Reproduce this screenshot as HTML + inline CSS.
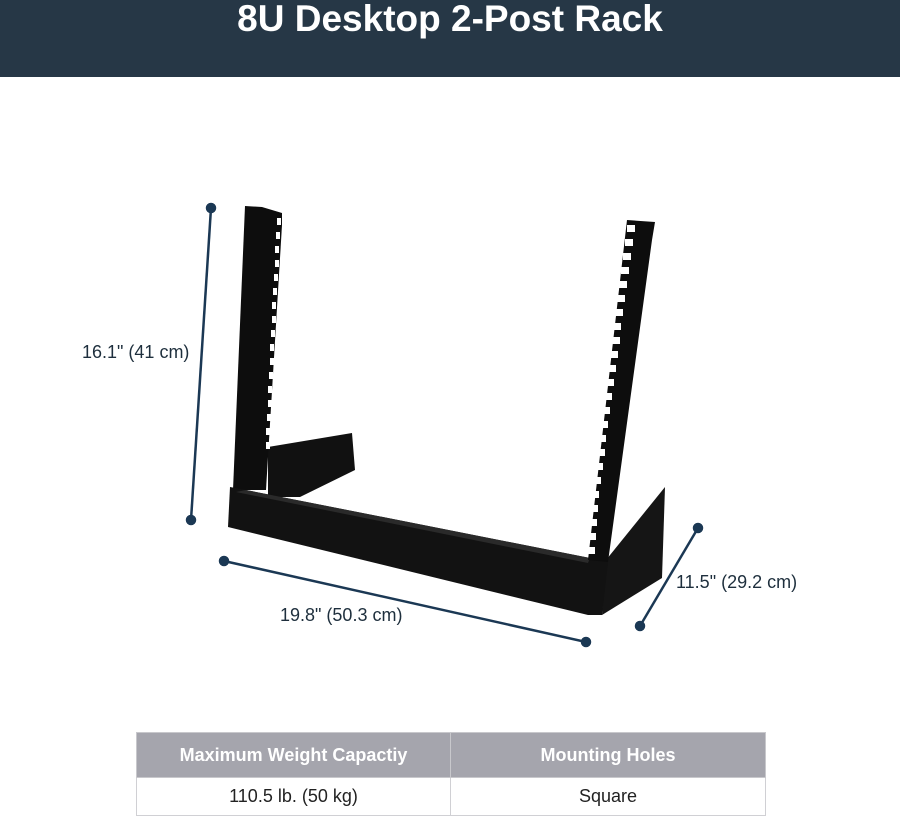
<!DOCTYPE html>
<html><head><style>
body{margin:0;width:900px;height:815px;background:#fff;font-family:"Liberation Sans",sans-serif;overflow:hidden;position:relative}
.hd{position:absolute;left:0;top:0;width:900px;height:77px;background:#263746;color:#fff;font-weight:bold;font-size:37px;text-align:center;line-height:38px}
.lbl{position:absolute;font-size:18px;color:#1e2f3d;white-space:nowrap}
table{position:absolute;left:136px;top:732px;width:629px;border-collapse:collapse;font-size:18px;table-layout:fixed}
th{background:#a5a5ad;color:#fff;height:44px;font-weight:bold;border:1px solid #c8c8cc;padding:0}
td{height:37px;text-align:center;color:#222;border:1px solid #d0d0d4;padding:0}
</style></head><body>
<div class="hd">8U Desktop 2-Post Rack</div>
<svg width="900" height="815" style="position:absolute;left:0;top:0">
<g stroke="#1b3854" stroke-width="2.5" fill="#1b3854">
<line x1="211" y1="208" x2="191" y2="520"/><circle cx="211" cy="208" r="4"/><circle cx="191" cy="520" r="4"/>
<line x1="224" y1="561" x2="586" y2="642"/><circle cx="224" cy="561" r="4"/><circle cx="586" cy="642" r="4"/>
<line x1="698" y1="528" x2="640" y2="626"/><circle cx="698" cy="528" r="4"/><circle cx="640" cy="626" r="4"/>
</g>
<polygon points="268,447 352,433 355,470 300,497 268,497" fill="#111"/>
<polygon points="606,560 665,487 662,578 602,615" fill="#151515"/>
<polygon points="245,206 262,207 282,213 282,225 266,490 233,490" fill="#0d0d0d"/>
<g fill="#fff">
<rect x="277" y="218" width="4" height="7"/><rect x="276" y="232" width="4" height="7"/><rect x="275" y="246" width="4" height="7"/><rect x="275" y="260" width="4" height="7"/><rect x="274" y="274" width="4" height="7"/><rect x="273" y="288" width="4" height="7"/><rect x="272" y="302" width="4" height="7"/><rect x="272" y="316" width="4" height="7"/><rect x="271" y="330" width="4" height="7"/><rect x="270" y="344" width="4" height="7"/><rect x="270" y="358" width="4" height="7"/><rect x="269" y="372" width="4" height="7"/><rect x="268" y="386" width="4" height="7"/><rect x="268" y="400" width="4" height="7"/><rect x="267" y="414" width="4" height="7"/><rect x="266" y="428" width="4" height="7"/><rect x="266" y="442" width="4" height="7"/>
</g>
<polygon points="230,487 246,490 590,558 608,562 602,615 588,615 228,527" fill="#121212"/>
<polygon points="246,490 590,558 588,563 236,492" fill="#2a2a2a"/>
<polygon points="627,220 655,222 652,240 608,562 588,560" fill="#0d0d0d"/>
<g fill="#fff">
<rect x="627" y="225" width="8" height="7"/><rect x="625" y="239" width="8" height="7"/><rect x="623" y="253" width="8" height="7"/><rect x="621" y="267" width="8" height="7"/><rect x="619" y="281" width="8" height="7"/><rect x="617" y="295" width="8" height="7"/><rect x="615" y="309" width="8" height="7"/><rect x="613" y="323" width="8" height="7"/><rect x="612" y="337" width="8" height="7"/><rect x="610" y="351" width="8" height="7"/><rect x="608" y="365" width="8" height="7"/><rect x="606" y="379" width="8" height="7"/><rect x="604" y="393" width="8" height="7"/><rect x="602" y="407" width="8" height="7"/><rect x="600" y="421" width="8" height="7"/><rect x="598" y="435" width="8" height="7"/><rect x="597" y="449" width="8" height="7"/><rect x="595" y="463" width="8" height="7"/><rect x="593" y="477" width="8" height="7"/><rect x="591" y="491" width="8" height="7"/><rect x="590" y="505" width="8" height="7"/><rect x="589" y="519" width="8" height="7"/><rect x="588" y="533" width="8" height="7"/><rect x="587" y="547" width="8" height="7"/>
</g>
</svg>
<div class="lbl" style="left:82px;top:342px">16.1" (41 cm)</div>
<div class="lbl" style="left:280px;top:605px">19.8" (50.3 cm)</div>
<div class="lbl" style="left:676px;top:572px">11.5" (29.2 cm)</div>
<table><colgroup><col style="width:314px"><col style="width:315px"></colgroup><tr><th>Maximum Weight Capactiy</th><th>Mounting Holes</th></tr>
<tr><td>110.5 lb. (50 kg)</td><td>Square</td></tr></table>
</body></html>
